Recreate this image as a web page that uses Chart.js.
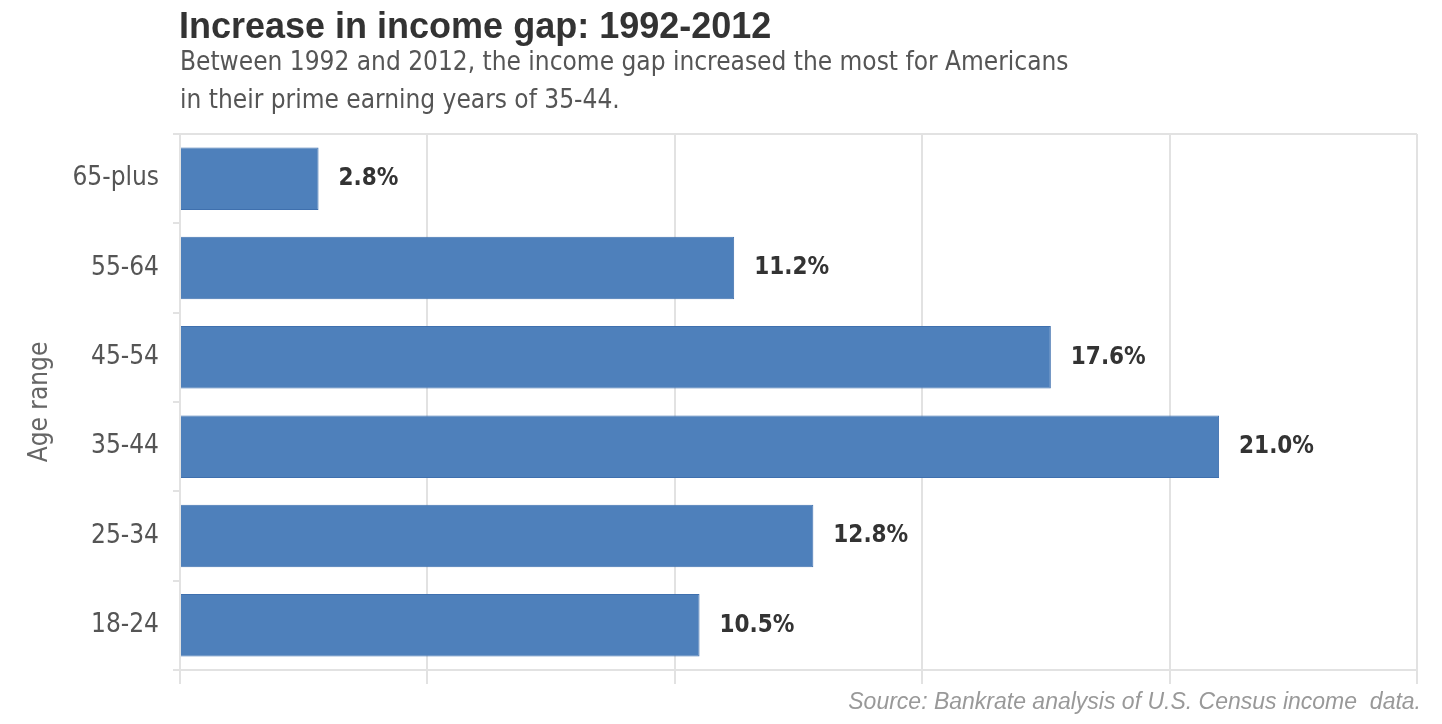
<!DOCTYPE html>
<html>
<head>
<meta charset="utf-8">
<script src="https://cdn.jsdelivr.net/npm/chart.js@4/dist/chart.umd.min.js"></script>
<style>
  html, body { margin: 0; padding: 0; background: #fff; }
  canvas { display: block; }
</style>
</head>
<body>
<canvas id="myChart" width="1442" height="724"></canvas>
<script>
var ageRanges = ['65-plus', '55-64', '45-54', '35-44', '25-34', '18-24'];
var gapIncrease = [2.8, 11.2, 17.6, 21.0, 12.8, 10.5];
var xTicks = [0, 5, 10, 15, 20, 25];

var titleText = 'Increase in income gap: 1992-2012';
var subtitleLines = [
    'Between 1992 and 2012, the income gap increased the most for Americans',
    'in their prime earning years of 35-44.'
];
var sourceText = 'Source: Bankrate analysis of U.S. Census income  data.';

var labelFont = '"DejaVu Sans Condensed", "DejaVu Sans", sans-serif';
var gridColor = '#e2e2e2';

// texts around the plot and the value labels
var textPlugin = {
    id: 'texts',
    afterDraw: function (chart) {
        var ctx = chart.ctx;
        var area = chart.chartArea;
        ctx.save();

        ctx.fillStyle = '#333';
        ctx.textBaseline = 'alphabetic';
        ctx.textAlign = 'left';
        ctx.font = 'bold 36px "Liberation Sans", Arial, sans-serif';
        ctx.fillText(titleText, 179, 38);

        ctx.fillStyle = '#555';
        ctx.font = '26px ' + labelFont;
        ctx.fillText(subtitleLines[0], 180, 70);
        ctx.fillText(subtitleLines[1], 180, 108);

        ctx.fillStyle = '#999';
        ctx.font = 'italic 23px "Liberation Sans", Arial, sans-serif';
        ctx.textAlign = 'right';
        ctx.fillText(sourceText, 1421, 709);

        // y axis title
        ctx.fillStyle = '#666';
        ctx.font = '26px ' + labelFont;
        ctx.textAlign = 'center';
        ctx.textBaseline = 'middle';
        ctx.translate(40, (area.top + area.bottom) / 2);
        ctx.rotate(-Math.PI / 2);
        ctx.fillText('Age range', 0, 0);
        ctx.restore();

        // value labels
        ctx.save();
        ctx.fillStyle = '#333';
        ctx.font = 'bold 24px ' + labelFont;
        ctx.textAlign = 'left';
        ctx.textBaseline = 'middle';
        var meta = chart.getDatasetMeta(0);
        meta.data.forEach(function (bar, i) {
            ctx.fillText(gapIncrease[i].toFixed(1) + '%', bar.x + 20, bar.y);
        });
        ctx.restore();
    }
};

var ctx = document.getElementById('myChart').getContext('2d');
var myChart = new Chart(ctx, {
    type: 'bar',
    data: {
        labels: ageRanges,
        datasets: [{
            data: gapIncrease,
            backgroundColor: '#4e80bb',
            borderColor: '#3f70ae',
            borderWidth: 1,
            categoryPercentage: 1,
            barPercentage: 0.7
        }]
    },
    options: {
        indexAxis: 'y',
        responsive: false,
        animation: false,
        layout: {
            padding: { top: 134, left: 0, right: 25, bottom: 0 }
        },
        plugins: {
            legend: { display: false },
            tooltip: { enabled: false }
        },
        scales: {
            x: {
                min: 0,
                max: 25,
                afterBuildTicks: function (axis) {
                    axis.ticks = xTicks.map(function (v) { return { value: v }; });
                },
                ticks: { display: false },
                grid: {
                    color: gridColor,
                    lineWidth: 2,
                    tickLength: 14,
                    tickColor: gridColor
                },
                border: { display: true, color: gridColor, width: 2 },
                afterFit: function (axis) { axis.height = 54; }
            },
            y: {
                ticks: {
                    color: '#555',
                    font: { family: labelFont, size: 26 },
                    padding: 14
                },
                grid: {
                    offset: true,
                    lineWidth: 2,
                    color: function (c) { return c.index === 0 ? gridColor : 'rgba(0,0,0,0)'; },
                    tickColor: gridColor,
                    tickLength: 7
                },
                border: { display: false },
                afterFit: function (axis) { axis.width = 180; }
            }
        }
    },
    plugins: [textPlugin]
});
</script>
</body>
</html>
